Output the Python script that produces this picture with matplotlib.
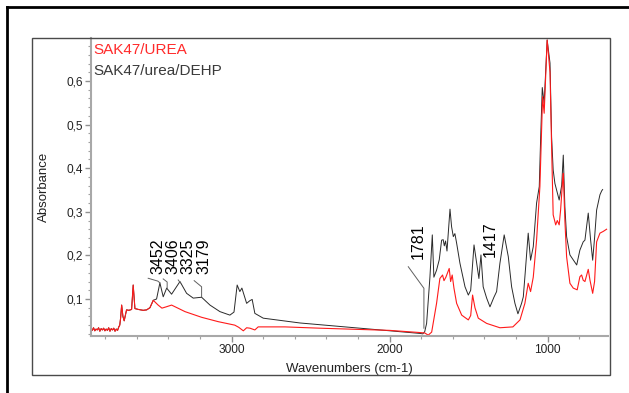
import matplotlib
matplotlib.use("Agg")
import matplotlib.pyplot as plt
from matplotlib.lines import Line2D
from matplotlib.patches import Rectangle
from matplotlib.ticker import MultipleLocator, FixedLocator, FuncFormatter

plt.rcParams["font.family"] = ["Liberation Sans", "DejaVu Sans"]

# shared noisy start of both spectra (cm-1, absorbance)
wn_common = [3890, 3882, 3874, 3866, 3858, 3850, 3842, 3834, 3826, 3818, 3810, 3802,
             3794, 3786, 3778, 3770, 3762, 3754, 3746, 3738, 3730, 3722, 3714, 3708,
             3703, 3696, 3688, 3680, 3665, 3650, 3633, 3623, 3612, 3590, 3560, 3538,
             3517, 3496]
abs_common = [0.032, 0.028, 0.034, 0.027, 0.031, 0.029, 0.034, 0.026, 0.032, 0.029, 0.033, 0.027,
              0.031, 0.028, 0.034, 0.026, 0.032, 0.029, 0.033, 0.026, 0.031, 0.028, 0.036, 0.040,
              0.055, 0.086, 0.060, 0.050, 0.075, 0.074, 0.076, 0.132, 0.078, 0.076, 0.074, 0.075,
              0.080, 0.097]

# SAK47/urea/DEHP (black)
wn_black = [3475, 3454, 3433, 3411, 3380, 3327, 3285, 3243, 3190, 3137, 3074, 3011,
            2985, 2965, 2948, 2935, 2905, 2885, 2870, 2853, 2800, 2673, 2568, 2441, 2000,
            1808, 1790, 1778, 1766, 1745, 1730, 1720, 1703, 1686, 1671, 1661, 1654,
            1646, 1637, 1618, 1608, 1597, 1587, 1576, 1555, 1523, 1502, 1487, 1466,
            1449, 1435, 1422, 1408, 1386, 1365, 1340, 1323, 1302, 1275, 1249, 1228,
            1207, 1188, 1165, 1154, 1142, 1123, 1108, 1091, 1070, 1053, 1044, 1034,
            1022, 1003, 985, 975, 965, 954, 927, 911, 901, 891, 880, 859, 816, 796,
            775, 764, 743, 728, 715, 703, 690, 669, 658, 652]
abs_black = [0.100, 0.137, 0.105, 0.125, 0.111, 0.140, 0.113, 0.102, 0.104, 0.086, 0.071, 0.063,
             0.070, 0.132, 0.117, 0.125, 0.090, 0.096, 0.099, 0.067, 0.056, 0.050, 0.045, 0.041, 0.027,
             0.021, 0.020, 0.025, 0.044, 0.150, 0.247, 0.150, 0.166, 0.190, 0.235, 0.236, 0.222,
             0.233, 0.210, 0.306, 0.266, 0.243, 0.250, 0.228, 0.182, 0.128, 0.109, 0.120, 0.224,
             0.182, 0.147, 0.201, 0.128, 0.102, 0.082, 0.104, 0.117, 0.182, 0.247, 0.197, 0.128,
             0.090, 0.066, 0.090, 0.105, 0.160, 0.251, 0.189, 0.220, 0.320, 0.358, 0.472, 0.585,
             0.549, 0.694, 0.641, 0.472, 0.396, 0.365, 0.327, 0.361, 0.430, 0.312, 0.243, 0.201, 0.178, 0.212,
             0.231, 0.235, 0.297, 0.235, 0.189, 0.240, 0.304, 0.339, 0.348, 0.351]

# SAK47/UREA (red)
wn_red = [3465, 3441, 3414, 3380, 3340, 3295, 3190, 3085, 2980, 2955, 2926, 2905,
          2884, 2853, 2832, 2663, 2441, 2000, 1808, 1777, 1756, 1734, 1703, 1682,
          1665, 1656, 1644, 1623, 1614, 1604, 1593, 1576, 1544, 1502, 1487, 1475,
          1460, 1439, 1386, 1302, 1220, 1175, 1144, 1123, 1108, 1091, 1070, 1049,
          1032, 1022, 1003, 985, 975, 965, 949, 939, 927, 918, 905, 901, 891, 880,
          859, 838, 813, 796, 785, 775, 764, 743, 732, 715, 703, 690, 669, 648, 627]
abs_red = [0.086, 0.079, 0.082, 0.086, 0.079, 0.071, 0.058, 0.048, 0.040, 0.035, 0.027, 0.034,
           0.033, 0.029, 0.036, 0.036, 0.033, 0.028, 0.023, 0.022, 0.017, 0.024, 0.090, 0.147,
           0.155, 0.142, 0.150, 0.170, 0.140, 0.155, 0.125, 0.090, 0.063, 0.052, 0.062, 0.109,
           0.080, 0.056, 0.044, 0.034, 0.036, 0.052, 0.090, 0.136, 0.117, 0.150, 0.235, 0.358,
           0.564, 0.526, 0.694, 0.620, 0.450, 0.293, 0.270, 0.280, 0.270, 0.304, 0.373, 0.388, 0.281, 0.197,
           0.136, 0.125, 0.121, 0.151, 0.155, 0.143, 0.140, 0.168, 0.143, 0.113, 0.140, 0.231, 0.251, 0.255, 0.260]

# peak labels: text, text x, text bottom, leader line (wn, abs) points
peak_labels = ["3452", "3406", "3325", "3179", "1781", "1417"]
label_x = [3466, 3372, 3274, 3178, 1821, 1365]
label_y = [0.157, 0.157, 0.157, 0.157, 0.192, 0.196]
leader_wn = [[3528, 3467, 3454], [3433, 3408, 3408], [3338, 3324], [3237, 3190, 3190],
             [1882, 1783, 1783], []]
leader_abs = [[0.1475, 0.141, 0.137], [0.146, 0.139, 0.125], [0.1436, 0.137],
              [0.142, 0.128, 0.105], [0.174, 0.1245, 0.033], []]

W, H = 629, 393
fig = plt.figure(figsize=(W / 100, H / 100), dpi=100)

# window frame lines (top, left) and chart box
fig.add_artist(Line2D([7 / W, 1], [1 - 7 / H, 1 - 7 / H], color="black", lw=2))
fig.add_artist(Line2D([7 / W, 7 / W], [0, 1 - 7 / H], color="black", lw=2))
fig.add_artist(Rectangle((32 / W, 1 - 375 / H), (610 - 32) / W, (375 - 38) / H,
                         fill=False, ec="#4a4a4a", lw=1, transform=fig.transFigure))

ax = fig.add_axes([91 / W, 1 - 336 / H, (608 - 91) / W, (336 - 38) / H])
ax.plot(wn_common + wn_black, abs_common + abs_black, color="#2a2a2a", lw=0.7)
ax.plot(wn_common + wn_red, abs_common + abs_red, color="#ff1a1a", lw=0.8)

ax.set_xlim(3890, 618)
ax.set_ylim(0.0151, 0.6986)

for s in ["top", "right"]:
    ax.spines[s].set_visible(False)
for s in ["left", "bottom"]:
    ax.spines[s].set_color("#a8a8a8")
    ax.spines[s].set_linewidth(1.5)

ax.xaxis.set_major_locator(FixedLocator([3000, 2000, 1000]))
ax.xaxis.set_minor_locator(MultipleLocator(200))
ax.yaxis.set_major_locator(FixedLocator([0.1, 0.2, 0.3, 0.4, 0.5, 0.6]))
ax.yaxis.set_minor_locator(MultipleLocator(0.02))
ax.yaxis.set_major_formatter(FuncFormatter(lambda v, p: f"{v:.1f}".replace(".", ",")))
ax.tick_params(which="major", length=4, width=1, color="#909090", labelsize=8.6,
               labelcolor="#222222", pad=2)
ax.tick_params(which="minor", length=2.5, width=0.8, color="#a0a0a0")

ax.set_xlabel("Wavenumbers (cm-1)", fontsize=9.5, color="#222222", labelpad=5)
ax.set_ylabel("Absorbance", fontsize=9.5, color="#222222", labelpad=12)

for i, t in enumerate(peak_labels):
    ax.text(label_x[i], label_y[i], t, rotation=90, ha="center", va="bottom",
            fontsize=11.5, color="black")
    if leader_wn[i]:
        ax.plot(leader_wn[i], leader_abs[i], color="#606060", lw=0.7)

fig.text(93 / W, 1 - 50 / H, "SAK47/UREA", color="#ff2a2a", fontsize=11, va="center")
fig.text(93 / W, 1 - 71 / H, "SAK47/urea/DEHP", color="#3a3a3a", fontsize=11, va="center")

fig.savefig("out.png", dpi=100)
